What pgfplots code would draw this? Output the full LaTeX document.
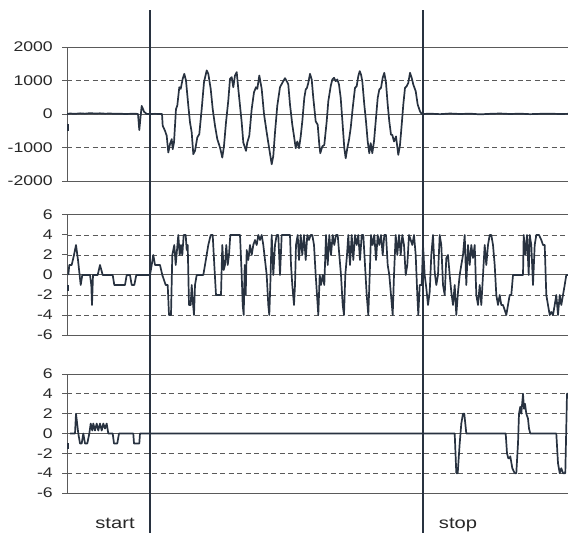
\documentclass[border=0pt]{standalone}
\usepackage{fontspec}
\setmainfont{Liberation Sans}
\newfontfamily\lblfont[FakeStretch=1.26]{Liberation Sans}
\usepackage{pgfplots}
\pgfplotsset{compat=1.18}

\definecolor{trace}{RGB}{40,50,64}
\definecolor{rule}{RGB}{90,90,90}
\definecolor{ink}{RGB}{40,40,40}

\pgfplotsset{
  panel/.style={
    scale only axis, width=501pt, xmin=67, xmax=568,
    anchor=south west,
    axis lines*=left, xtick=\empty,
    axis line style={rule, line width=1pt},
    tick align=outside, major tick length=5pt,
    tick style={rule, line width=1pt},
    ymajorgrids,
    grid style={rule, line width=0.9pt, dash pattern=on 5pt off 3.5pt},
    extra y tick style={major grid style={rule, line width=1pt, solid}},
    yticklabel style={font=\lblfont\fontsize{14}{16}\selectfont, text=ink, anchor=east, inner sep=0pt, xshift=-9pt},
  },
  small/.style={
    ymin=-6, ymax=6,
    ytick={-4,-2,2,4}, yticklabels={-4,-2,2,4},
    extra y ticks={-6,0,6}, extra y tick labels={-6,0,6},
  },
  sig/.style={trace, line width=1.7pt, line join=round, mark=none},
}

\begin{document}
\begin{tikzpicture}
\path[use as bounding box] (0,0) rectangle (568pt,-533pt);

% panel 1
\begin{axis}[panel, at={(67pt,-181pt)}, height=134pt,
  ymin=-2000, ymax=2000,
  ytick={-1000,1000}, yticklabels={-1000,1000},
  extra y ticks={-2000,0,2000}, extra y tick labels={-2000,0,2000}]
\addplot[sig] coordinates {(68,-300) (68,-500)};
\addplot[sig] coordinates {
(67,0) (70,15) (75,5) (80,20) (85,10) (90,25) (95,15) (100,20) (105,10) (110,15)
(115,5) (120,10) (125,0) (130,5) (135,10) (138,0) (139.3,-480) (140.5,-100)
(141.7,240) (143,150) (144,70) (146.7,0) (150,0) (155,5) (160,0) (162,0)
(162.7,-350) (165,-500) (166.7,-650) (168.3,-1150) (170,-900) (171.7,-750)
(172.7,-1050) (174,-850) (176,150) (177.3,250) (179.3,800) (180.7,750)
(182.7,1050) (184.3,1200) (186,1000) (188.3,250) (190,-250) (191.7,-550)
(193.3,-1200) (195,-1100) (197.3,-700) (199.3,-600) (201.7,150) (204,950)
(206.7,1300) (208.3,1200) (210.7,750) (212.7,150) (215,-350) (217.3,-750)
(220,-1000) (222.3,-1300) (224,-950) (226,-250) (228.3,400) (230,1050)
(231.7,1100) (233.3,800) (235,1150) (236.7,1250) (238.3,750) (240,250)
(241.7,-250) (243.3,-850) (246,-1100) (247.3,-850) (249.3,-650) (251.7,150)
(254,650) (256,800) (257.3,750) (259.3,1150) (261.7,750) (264,0) (266.7,-550)
(269.3,-1050) (271.7,-1500) (273.3,-1250) (275,-550) (277.3,250) (280,800)
(282.7,950) (285,1070) (287.3,950) (288.3,880) (290,280) (292.3,-320)
(294.3,-720) (295.7,-1020) (297.3,-820) (299,-1020) (300.7,-670) (302.3,-220)
(304.3,480) (305.7,730) (307,780) (308.3,930) (310,1200) (311.7,1030)
(313.3,480) (315.7,-220) (317.7,-320) (319.3,-920) (320.3,-1170) (322.3,-970)
(324.3,-920) (326.7,-220) (328.3,380) (330.7,830) (332.3,1030) (334,1080)
(335.7,980) (337.3,1030) (339,880) (340.7,480) (342.3,-170) (344.3,-1020)
(345.7,-1320) (347.3,-1020) (349,-770) (350.7,-420) (352.7,180) (355,780)
(356.7,830) (358.3,1130) (359.7,1280) (361,1180) (362.3,980) (364.3,280)
(366,-220) (367.7,-820) (369.3,-1170) (370.7,-870) (372.3,-1170) (374,-820)
(375.7,-220) (377.7,480) (379.3,730) (381,780) (382.7,1080) (384.3,1230)
(386,930) (387.7,280) (389.3,-220) (391,-620) (392.3,-620) (394,-820)
(396,-670) (398.3,-1220) (400,-920) (401.7,-320) (403.3,280) (405,780)
(406.7,830) (408.3,930) (410,1230) (411.7,1080) (413.3,880) (415.7,680)
(417.7,280) (420,80) (421.7,0) (423,0) (430,10) (440,-5) (450,15) (460,0)
(470,10) (480,-10) (490,5) (500,15) (510,0) (520,10) (530,-5) (540,5)
(550,10) (560,0) (568,5)};
\end{axis}

% panel 2
\begin{axis}[panel, small, at={(67pt,-335pt)}, height=120pt]
\addplot[sig] coordinates {(68,-1) (68,-1.6)};
\addplot[sig] coordinates {
(68.3,0) (69.3,1) (71.7,1) (74,2) (76,3) (78,1.5) (80.7,-1) (82.3,0) (90,0)
(91.3,-1) (92,-3) (93,0) (97.7,0) (100,1) (102.7,0) (112.7,0) (114.3,-1)
(125,-1) (126.7,0) (130,0) (131.7,-1) (134.3,-1) (136.3,0) (150,0) (151.7,1)
(153.3,2) (155,1) (160,1) (162.3,0) (165.7,-1) (167.7,-1) (169,-4) (171,-4)
(172.3,2) (174.3,3) (175.7,1) (177,2.5) (178.3,4) (179.7,2) (181,3) (182.3,2)
(183.7,4) (185.7,4) (186.7,2.5) (187.7,3) (189,-3) (190.7,-3) (191.7,-1)
(192.7,-2.5) (194,-4) (195,-1) (196.7,0) (203.3,0) (205,1) (208.3,3)
(210.7,4) (212.7,4) (214.3,1) (216,-2) (221,-2) (222.3,3) (223.7,0.5) (225,1)
(226.3,3) (227.7,1) (229,2) (230.3,4) (240,4) (241.7,0) (242.7,-3) (243.7,-4)
(244.7,1) (245.7,-2) (246.7,2.5) (248.3,1.5) (250,3) (251.7,2) (253.3,3)
(255,3.5) (256.7,3) (258.3,4) (260,3.5) (261.7,4) (263.3,3) (265,1.5)
(266.7,0) (268.3,-3) (269.3,-4) (270.3,-1) (271.7,4) (273.3,0) (275,3)
(276.7,4) (278.3,4) (280,0) (281.7,4) (290,4) (291,1) (292.3,-1) (294,-3)
(295,-1) (296,3) (297.7,4) (299,1.5) (300.7,4) (302.3,2) (304,4) (305.7,1.5)
(307.3,4) (309,3.5) (310.7,4) (312.3,4) (314,3) (315.7,0) (317,-2) (318.3,-4)
(319.7,0) (321,-1) (322.7,0) (324.3,-1) (326,4) (327.7,1) (329.3,4) (331,2)
(332.7,4) (334.3,3) (336,4) (337.7,4) (339.3,2) (341,0) (342.7,-3) (344,-4)
(345.3,0) (347,2) (348.3,4) (350,1) (351.7,4) (353.3,1.5) (355,4) (356.7,3)
(358.3,4) (360,1.5) (361.7,4) (363.3,4) (365,1) (366.7,-2) (368.3,-4)
(369.7,0) (371,4) (372.7,3) (374.3,4) (376,1.5) (377.7,4) (379.3,3) (381,4)
(382.7,2) (384.3,4) (386,4) (387.7,1) (389.3,0) (391,-2) (392.7,-4) (394,0)
(395.7,4) (397.3,2) (399,4) (400.7,2) (402.3,4) (404,3) (405.7,0) (407.3,1)
(409,4) (410.7,3.5) (412.3,3) (414,4) (415.7,2) (417.3,-2) (418.3,-4)
(419.7,-1) (421.7,-1) (423,3) (424.7,0) (426.3,-1.3) (428,-3) (429.7,-1.7)
(431.3,2) (433,4) (434.7,0.3) (436.3,-1) (438,0) (439.7,4) (441.3,3) (443,-1)
(444.7,-2) (446.3,1.7) (448,2) (449.7,0) (451.3,-1.7) (453,-3) (454.7,-1)
(456.3,-4) (458,-1.7) (459.7,0) (461.3,1) (463,2) (464.7,4) (466.3,-1)
(468,3) (469.7,1) (471.3,3) (473,1.7) (474.7,3) (476.3,-2) (478,-3)
(479.7,-1) (481.3,-3) (483,0) (484.7,3) (486.3,1) (488,3) (489.7,4) (491.3,4)
(493,3) (494.7,1) (496.3,-2) (498,-3) (499.7,-2) (501.3,-3) (503,-3)
(504.7,-3.5) (506.3,-4) (508,-3) (509.7,-2) (511.3,-2) (513,0) (523,0)
(523.7,4) (525.3,2) (527,4) (528.7,0) (529.7,4) (531.3,3) (533,-1) (534.7,3)
(536.3,4) (539,4) (541.3,3.5) (543,3) (544.7,3) (546.3,-2) (548,-3)
(549.7,-4) (551.3,-3.7) (553,-4) (554.7,-3) (556.3,-2) (558,-4) (559.7,-2)
(561.3,-3) (563,-2) (564.7,-1) (566.3,0) (568,0)};
\end{axis}

% panel 3
\begin{axis}[panel, small, at={(67pt,-493pt)}, height=119pt]
\addplot[sig] coordinates {(68,-1) (68,-1.6)};
\addplot[sig] coordinates {
(70,0) (75,0) (76,2) (78.3,0) (80,-1) (81.7,-1) (83.3,0) (85,-1) (87.3,-1)
(89.3,0) (90.7,1) (92.3,0.3) (93.3,1) (95,0.3) (96.7,1) (98.3,0.3) (100,1)
(101.7,0.3) (103.3,1) (105,0.5) (106.7,1) (108.3,0) (112.7,0) (114,-1)
(117.3,-1) (119,0) (133.3,0) (134,-1) (139.3,-1) (140,0) (454.7,0)
(456.3,-4) (457.7,-4) (459.7,-1) (461.3,1) (463,2) (464.3,2) (465.3,1)
(466.3,0) (505.7,0) (507,-2) (508.3,-2.5) (509.7,-2.5) (510.3,-2.3)
(512.3,-3.5) (514.7,-4) (516.3,-4) (518,-1) (519,2) (520.3,2.7) (521.3,2)
(523,4) (524,2.5) (525,3) (526.3,2) (528,1.5) (529,0.5) (530.3,0) (556.3,0)
(558,-3) (559.7,-4) (561.3,-3.5) (563,-4) (565.3,-4) (567,4) (568,4)};
\end{axis}

% start / stop markers
\draw[trace, line width=1.1pt] (150pt,-10pt) -- (150pt,-533pt);
\draw[trace, line width=1.1pt] (423pt,-10pt) -- (423pt,-533pt);
\node[font=\lblfont\fontsize{16}{18}\selectfont, text=ink, anchor=base] at (115pt,-528pt) {start};
\node[font=\lblfont\fontsize{16}{18}\selectfont, text=ink, anchor=base] at (458pt,-528pt) {stop};
\end{tikzpicture}
\end{document}
